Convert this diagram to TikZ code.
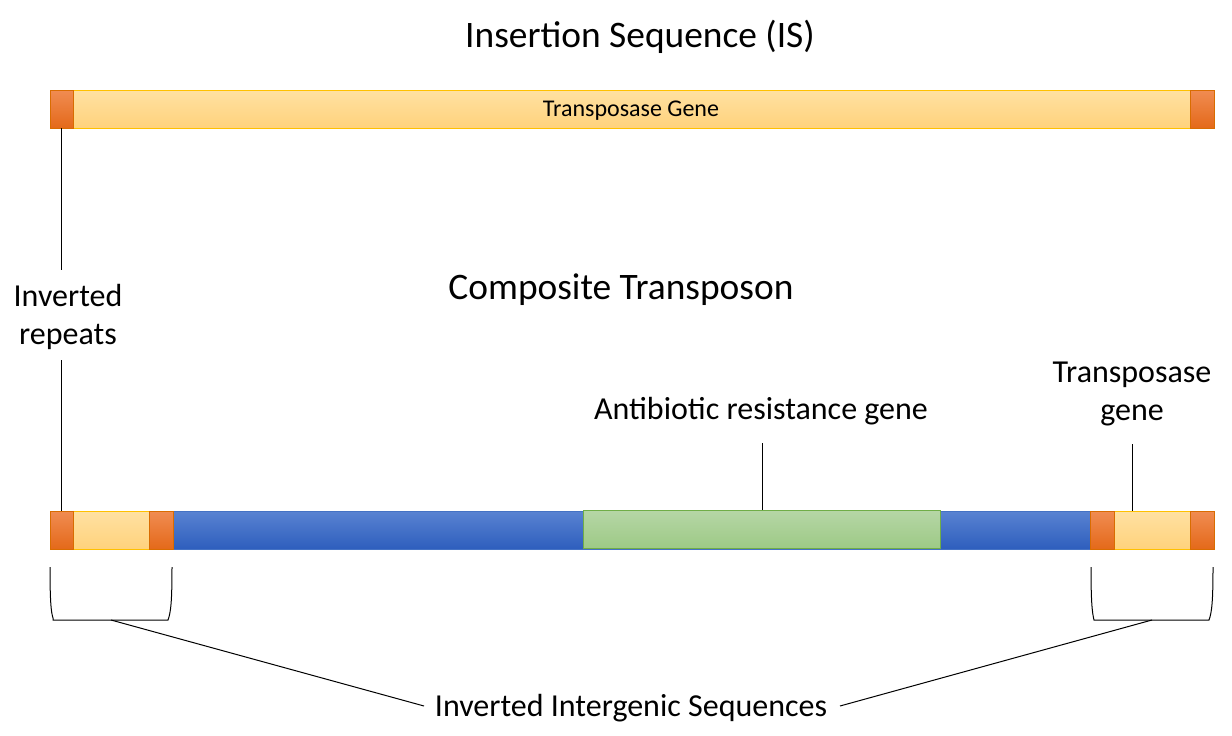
\documentclass[tikz,border=0pt]{standalone}
\usepackage{fontspec}
\setmainfont{Carlito}
\begin{document}
\begin{tikzpicture}[x=1pt,y=-1pt,
  seg/.style={draw=#1, line width=0.8pt, anchor=north west, inner sep=0pt, outer sep=0pt},
  orangeseg/.style={seg=orange!85!black, top color=orangeT, bottom color=orangeB, minimum height=38pt},
  yellowseg/.style={seg=goldline, top color=yellowT, bottom color=yellowB, minimum height=38pt},
  blueseg/.style={seg=blueline, top color=blueT, bottom color=blueB, minimum height=38pt},
  greenseg/.style={seg=greenline, top color=greenT, bottom color=greenB, minimum height=38pt},
  big/.style={font=\fontsize{37.4}{44}\selectfont, inner sep=0pt},
  mid/.style={font=\fontsize{32}{37.5}\selectfont, inner sep=0pt, align=center},
  small/.style={font=\fontsize{24}{28}\selectfont, inner sep=0pt},
  conn/.style={draw=black, line width=1pt}
]
\definecolor{orangeT}{HTML}{F08C52}
\definecolor{orangeB}{HTML}{E4691A}
\definecolor{yellowT}{HTML}{FFE1A2}
\definecolor{yellowB}{HTML}{FFD27C}
\definecolor{goldline}{HTML}{FFC000}
\definecolor{blueT}{HTML}{5983D2}
\definecolor{blueB}{HTML}{2E5EBD}
\definecolor{blueline}{HTML}{4472C4}
\definecolor{greenT}{HTML}{B6D6A6}
\definecolor{greenB}{HTML}{9DCA86}
\definecolor{greenline}{HTML}{70AD47}
\useasboundingbox (0,0) rectangle (1232,736);
\fill[white] (0,0) rectangle (1232,736);

% titles
\node[big] (t1) at (640,37) {Insertion Sequence (IS)};
\node[big] (t2) at (621,290) {Composite Transposon};

% top bar
\node[yellowseg, minimum width=1117pt] (tg) at (73,90) {};
\node[small] (tgl) at (631,111) {Transposase Gene};
\node[orangeseg, minimum width=23pt] (tl) at (50,90) {};
\node[orangeseg, minimum width=24pt] (tr) at (1190,90) {};

% bottom bar
\node[blueseg, minimum width=917pt] (bb) at (173,511) {};
\node[greenseg, minimum width=357pt] (gr) at (583,510) {};
\node[yellowseg, minimum width=76pt] (ly) at (73,511) {};
\node[orangeseg, minimum width=23pt] (lo1) at (50,511) {};
\node[orangeseg, minimum width=24pt] (lo2) at (149,511) {};
\node[yellowseg, minimum width=76pt] (ry) at (1114,511) {};
\node[orangeseg, minimum width=24pt] (ro1) at (1090,511) {};
\node[orangeseg, minimum width=24pt] (ro2) at (1190,511) {};

% labels
\node[mid] (ir) at (68,317) {Inverted\\repeats};
\node[mid] (arg) at (761,411) {Antibiotic resistance gene};
\node[mid] (tpg) at (1132,394) {Transposase\\gene};
\node[mid] (iis) at (631,708) {Inverted Intergenic Sequences};

% connectors
\coordinate (irtop) at (61,270);
\coordinate (irbot) at (61,360);
\coordinate (argc) at (762,443);
\coordinate (tpgc) at (1132,444);
\draw[conn] (61,128) -- (irtop);
\draw[conn] (irbot) -- (61,511);
\draw[conn] (argc) -- (gr.north -| argc);
\draw[conn] (tpgc) -- (ry.north -| tpgc);

% brackets
\coordinate (lb) at (111,620);
\coordinate (rb) at (1152,620);
\draw[conn] (50,567) .. controls (50,600) and (51,612) .. (53,618)
  -- (53,620) -- (168,620) .. controls (171,612) and (172,600) .. (172,567);
\draw[conn] (1091,567) .. controls (1091,600) and (1092,612) .. (1094,620)
  -- (1209,620) .. controls (1212,612) and (1213,600) .. (1213,567);
\draw[conn] (lb) -- (424,706);
\draw[conn] (rb) -- (840,706);
\end{tikzpicture}
\end{document}
